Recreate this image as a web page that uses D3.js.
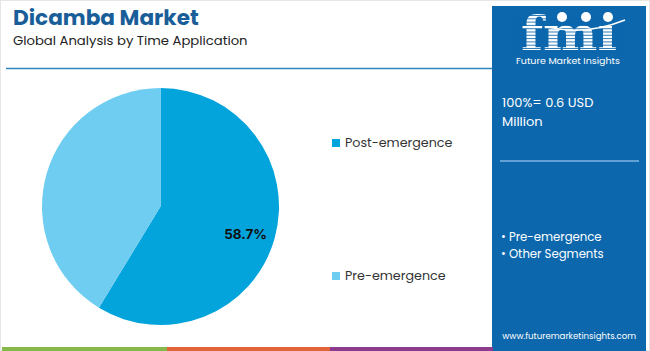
<!DOCTYPE html>
<html><head><meta charset="utf-8">
<script src="https://cdn.jsdelivr.net/npm/d3@7/dist/d3.min.js"></script>
<style>body{margin:0;background:#fff}svg{display:block}</style>
</head><body><svg id="c" width="650" height="351"></svg>
<script>
const categories = ["Post-emergence", "Pre-emergence"];
const values = [58.7, 41.3];
const colors = ["#03a4dc", "#6ecdf1"];
const panelBullets = ["Pre-emergence", "Other Segments"];
const totalLabel = ["100%= 0.6 USD", "Million"];

const svg = d3.select("#c");
const font = "Poppins, Inter, 'Open Sans', sans-serif";

// frame
svg.append("rect").attr("x",0.5).attr("y",0.5).attr("width",649).attr("height",350).attr("fill","none").attr("stroke","#e6e6e6");

// title
svg.append("text").attr("x",13).attr("y",25).attr("font-family",font).attr("font-weight",700)
  .attr("font-size",21.6).attr("fill","#195e98").text("Dicamba Market");
svg.append("text").attr("x",13).attr("y",45).attr("font-family",font)
  .attr("font-size",13.2).attr("fill","#222").text("Global Analysis by Time Application");
svg.append("line").attr("x1",6).attr("x2",492).attr("y1",68.5).attr("y2",68.5)
  .attr("stroke","#2e86c1").attr("stroke-width",1.5);

// pie
const cx = 160.5, cy = 206.5, r = 118.5;
const pie = d3.pie().sort(null).value(d => d)(values);
const arc = d3.arc().innerRadius(0).outerRadius(r);
const g = svg.append("g").attr("transform",`translate(${cx},${cy})`);
g.selectAll("path").data(pie).join("path").attr("d",arc).attr("fill",(d,i)=>colors[i]);
const labelArc = d3.arc().innerRadius(r*0.72).outerRadius(r*0.72);
const p0 = labelArc.centroid(pie[0]);
g.append("text").attr("x",p0[0]+3).attr("y",p0[1]+9).attr("text-anchor","middle")
  .attr("font-family","Inter, 'Open Sans', sans-serif").attr("font-weight",700).attr("font-size",13.5)
  .attr("fill","#111").text(d3.format(".1f")(values[0])+"%");

// legend
const ly = d3.scalePoint().domain(categories).range([147, 280]);
const lg = svg.append("g");
categories.forEach((c,i)=>{
  lg.append("rect").attr("x",332).attr("y",ly(c)-8).attr("width",8).attr("height",8).attr("fill",colors[i]);
  lg.append("text").attr("x",345).attr("y",ly(c)).attr("font-family",font).attr("font-size",12.7)
    .attr("fill","#333").text(c);
});

// right panel
svg.append("rect").attr("x",492).attr("y",6).attr("width",154).attr("height",345).attr("fill","#0c67ad");
// logo
const logo = svg.append("g");
logo.append("text").attr("x",521).attr("y",50)
  .attr("font-family","'DejaVu Serif', serif").attr("font-weight",700).attr("font-size",46)
  .attr("textLength",96).attr("lengthAdjust","spacingAndGlyphs")
  .attr("fill","#fff").text("fmı");
for (let y=15; y<52; y+=3.3){
  logo.append("rect").attr("x",515).attr("y",y).attr("width",110).attr("height",1).attr("fill","#0c67ad").attr("opacity",0.85);
}
[[562,17],[586,17],[608,17]].forEach(([x,y])=>{
  logo.append("circle").attr("cx",x).attr("cy",y).attr("r",5).attr("fill","#fff");
});
logo.append("path").attr("d","M548,27 Q585,36 625,20").attr("fill","none").attr("stroke","#fff").attr("stroke-width",1.5);
logo.append("text").attr("x",568).attr("y",64).attr("text-anchor","middle").attr("font-family",font)
  .attr("font-size",9.5).attr("fill","#fff").text("Future Market Insights");

totalLabel.forEach((t,i)=>{
  svg.append("text").attr("x",502).attr("y",107+i*19).attr("font-family",font).attr("font-size",13)
    .attr("fill","#fff").text(t);
});
svg.append("line").attr("x1",500).attr("x2",639).attr("y1",161).attr("y2",161)
  .attr("stroke","#7eb4e0").attr("stroke-width",1.5);
panelBullets.forEach((t,i)=>{
  svg.append("text").attr("x",501).attr("y",241+i*17).attr("font-family",font).attr("font-size",11.7)
    .attr("fill","#fff").text("• "+t);
});
svg.append("text").attr("x",636).attr("y",339).attr("text-anchor","end").attr("font-family",font)
  .attr("font-size",8.6).attr("fill","#fff").text("www.futuremarketinsights.com");

// bottom bars
[["#86b94a",2,167],["#e2653a",167,330],["#8c3b8f",330,493]].forEach(([c,x0,x1])=>{
  svg.append("rect").attr("x",x0).attr("y",347).attr("width",x1-x0).attr("height",4).attr("fill",c);
});
</script></body></html>
